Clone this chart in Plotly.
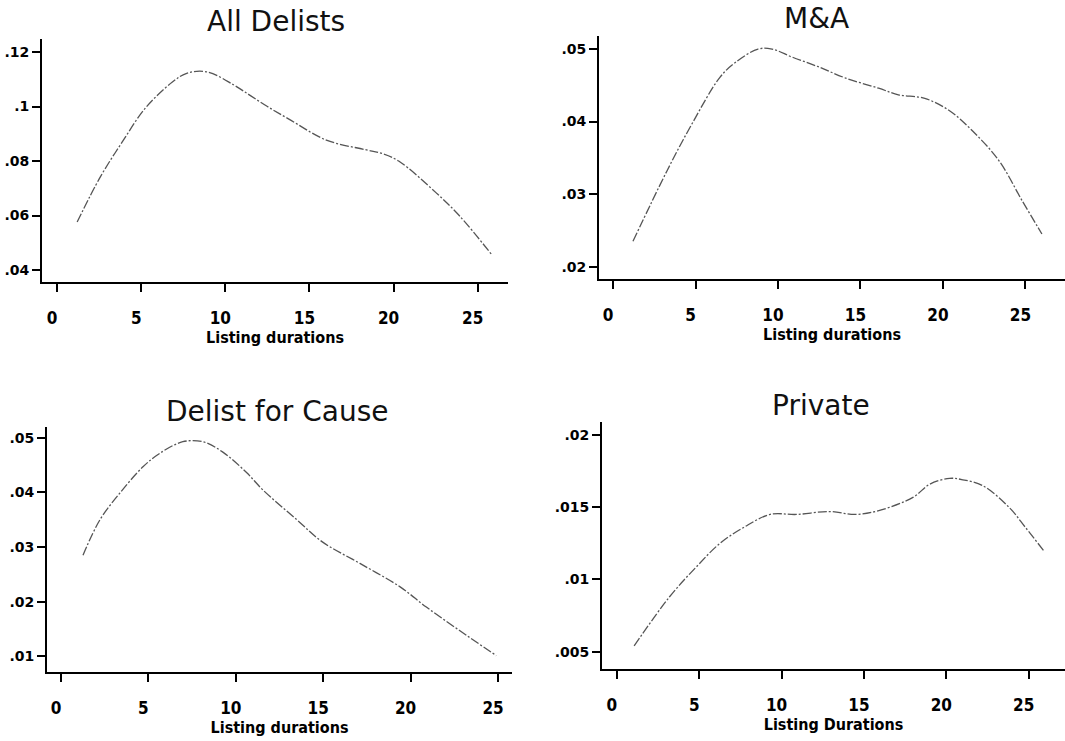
import plotly.graph_objects as go

# ---- data ----
all_x = [1.19, 2.56, 3.87, 5.24, 6.85, 7.74, 8.93, 10.48, 11.49, 12.5, 13.75, 16.0, 18.3, 19.3, 20.3, 22.5, 23.9, 25.85]
all_y = [0.0576, 0.0741, 0.0870, 0.0994, 0.1090, 0.1123, 0.1127, 0.1080, 0.1040, 0.1000, 0.0955, 0.0877, 0.0842, 0.0828, 0.0800, 0.0685, 0.0600, 0.0455]

ma_x = [1.21, 3.27, 4.79, 6.48, 7.39, 8.79, 9.64, 10.85, 12.4, 14.1, 16.1, 17.3, 18.9, 20.4, 21.8, 23.4, 24.8, 26.0]
ma_y = [0.0235, 0.0332, 0.0397, 0.0461, 0.0481, 0.0500, 0.0500, 0.0489, 0.0476, 0.0460, 0.0446, 0.0437, 0.0432, 0.0415, 0.0387, 0.0346, 0.0291, 0.0245]

cause_x = [1.26, 2.23, 3.37, 4.69, 5.66, 6.97, 8.11, 9.26, 10.63, 11.54, 13.49, 14.97, 17.1, 19.4, 20.9, 22.8, 24.9]
cause_y = [0.0285, 0.0350, 0.0399, 0.0447, 0.0472, 0.0493, 0.0493, 0.0474, 0.0436, 0.0405, 0.0350, 0.0309, 0.0270, 0.0227, 0.0190, 0.0147, 0.0101]

priv_x = [1.05, 3.2, 4.85, 6.26, 7.7, 9.3, 10.9, 12.9, 14.5, 16.0, 18.0, 19.0, 20.2, 21.0, 22.2, 23.8, 24.8, 25.9]
priv_y = [0.0054, 0.0088, 0.0109, 0.0125, 0.0136, 0.0145, 0.0145, 0.0147, 0.0145, 0.0148, 0.0157, 0.0166, 0.0170, 0.0169, 0.0165, 0.0150, 0.0136, 0.0120]

titles = ["All Delists", "M&A", "Delist for Cause", "Private"]
xtitles = ["Listing durations", "Listing durations", "Listing durations", "Listing Durations"]
x_ticks = [0, 5, 10, 15, 20, 25]
y_ticks = [
    [0.04, 0.06, 0.08, 0.1, 0.12],
    [0.02, 0.03, 0.04, 0.05],
    [0.01, 0.02, 0.03, 0.04, 0.05],
    [0.005, 0.01, 0.015, 0.02],
]
y_ticktext = [
    [".04", ".06", ".08", ".1", ".12"],
    [".02", ".03", ".04", ".05"],
    [".01", ".02", ".03", ".04", ".05"],
    [".005", ".01", ".015", ".02"],
]

W, H = 1065, 741
# plot-area boxes in pixels: left, right, top, bottom
boxes = [(42, 508, 39, 282), (599, 1065, 36, 279), (47, 512, 427, 672), (602, 1065, 422, 669)]
x_ranges = [[-0.9, 26.8], [-0.85, 27.4], [-0.8, 25.8], [-0.9, 27.2]]
y_ranges = [[0.0356, 0.1248], [0.0183, 0.0518], [0.0071, 0.052], [0.0038, 0.0209]]
title_pos = [(276, 22), (816, 18), (277, 411), (821, 406)]

series = [(all_x, all_y), (ma_x, ma_y), (cause_x, cause_y), (priv_x, priv_y)]

fig = go.Figure()
tick_font = dict(family="DejaVu Sans Condensed, DejaVu Sans, sans-serif", size=17, color="black", weight="bold")

for i, ((xs, ys), (l, r, t, b)) in enumerate(zip(series, boxes)):
    n = "" if i == 0 else str(i + 1)
    fig.add_trace(go.Scatter(
        x=xs, y=ys, mode="lines",
        line=dict(color="#555555", width=1.3, dash="9px,2px,2px,2px", shape="spline", smoothing=1.0),
        xaxis="x" + n, yaxis="y" + n, showlegend=False, hoverinfo="skip"))
    xa = dict(domain=[l / W, min(r / W, 1.0)], range=x_ranges[i], anchor="y" + n,
              showline=True, linecolor="black", linewidth=2, showgrid=False, zeroline=False,
              ticks="outside", ticklen=8, tickwidth=2, tickcolor="black",
              tickvals=x_ticks, ticktext=[str(v) for v in x_ticks], tickfont=tick_font,
              ticklabelstandoff=12, ticklabelshift=-5,
              title=dict(text=xtitles[i], standoff=1,
                         font=dict(family="DejaVu Sans Condensed, DejaVu Sans, sans-serif", size=16, color="black", weight="bold")))
    ya = dict(domain=[1 - b / H, 1 - t / H], range=y_ranges[i], anchor="x" + n,
              showline=True, linecolor="black", linewidth=2, showgrid=False, zeroline=False,
              ticks="outside", ticklen=8, tickwidth=2, tickcolor="black",
              tickvals=y_ticks[i], ticktext=y_ticktext[i],
              tickfont=dict(family="DejaVu Sans, sans-serif", size=14, color="black", weight="bold"))
    fig.update_layout(**{"xaxis" + n: xa, "yaxis" + n: ya})
    tx, ty = title_pos[i]
    fig.add_annotation(text=titles[i], x=tx / W, y=1 - ty / H, xref="paper", yref="paper",
                       xanchor="center", yanchor="middle", showarrow=False,
                       font=dict(family="DejaVu Sans, sans-serif", size=28, color="#111111"))

fig.update_layout(width=W, height=H, margin=dict(l=0, r=0, t=0, b=0),
                  paper_bgcolor="white", plot_bgcolor="white")
fig.write_html("out.html", config={"displayModeBar": False},
               post_script="document.body.style.margin='0';document.body.style.overflow='hidden';")
